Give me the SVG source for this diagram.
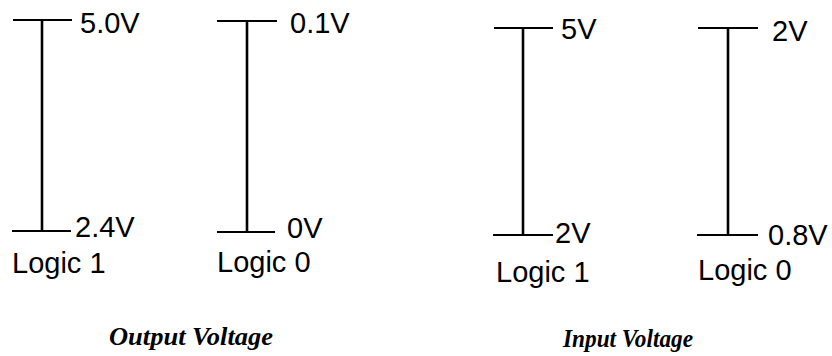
<svg xmlns="http://www.w3.org/2000/svg" width="832" height="356" viewBox="0 0 832 356">
  <style>
    .bar { stroke: #000; stroke-width: 2.6; fill: none; }
    .tick { stroke: #000; stroke-width: 2.2; fill: none; }
    .lbl { font-family: "Liberation Sans", Arial, sans-serif; font-size: 29px; fill: #000; }
    .title { font-family: "Liberation Serif", "Times New Roman", serif; font-size: 25px; font-weight: bold; font-style: italic; fill: #000; }
  </style>
  <rect width="832" height="356" fill="#fff"/>

  <!-- Output voltage ranges -->
  <g id="out-logic1">
    <line class="bar" x1="42" y1="20" x2="42" y2="231"/>
    <line class="tick" x1="13" y1="20" x2="72" y2="20"/>
    <line class="tick" x1="12" y1="231" x2="71" y2="231"/>
    <text class="lbl" x="80" y="33">5.0V</text>
    <text class="lbl" x="75" y="237">2.4V</text>
    <text class="lbl" x="12" y="273">Logic 1</text>
  </g>
  <g id="out-logic0">
    <line class="bar" x1="247" y1="21" x2="247" y2="232"/>
    <line class="tick" x1="217" y1="21" x2="277" y2="21"/>
    <line class="tick" x1="217" y1="232" x2="275" y2="232"/>
    <text class="lbl" x="290" y="33">0.1V</text>
    <text class="lbl" x="287" y="238">0V</text>
    <text class="lbl" x="217" y="272">Logic 0</text>
  </g>

  <!-- Input voltage ranges -->
  <g id="in-logic1">
    <line class="bar" x1="523" y1="28" x2="523" y2="235"/>
    <line class="tick" x1="494" y1="28" x2="553" y2="28"/>
    <line class="tick" x1="493" y1="235" x2="553" y2="235"/>
    <text class="lbl" x="561" y="39">5V</text>
    <text class="lbl" x="555" y="243">2V</text>
    <text class="lbl" x="496" y="282">Logic 1</text>
  </g>
  <g id="in-logic0">
    <line class="bar" x1="728" y1="28" x2="728" y2="235"/>
    <line class="tick" x1="698" y1="28" x2="758" y2="28"/>
    <line class="tick" x1="697" y1="235" x2="758" y2="235"/>
    <text class="lbl" x="772" y="41">2V</text>
    <text class="lbl" x="768" y="245">0.8V</text>
    <text class="lbl" x="698" y="280">Logic 0</text>
  </g>

  <!-- Captions -->
  <text class="title" x="109" y="345" textLength="164" lengthAdjust="spacingAndGlyphs">Output Voltage</text>
  <text class="title" x="563" y="347" textLength="130" lengthAdjust="spacingAndGlyphs">Input Voltage</text>
</svg>
